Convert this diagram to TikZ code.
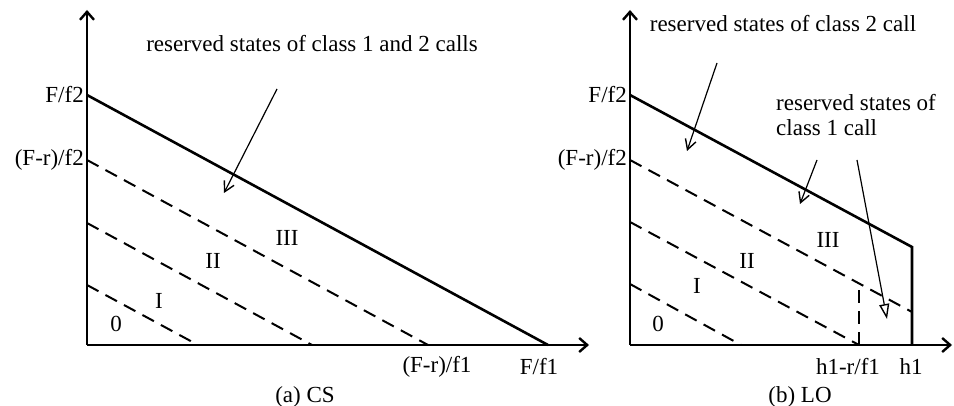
\documentclass[tikz,border=0pt]{standalone}
\usepackage{fontspec}
\setmainfont{Liberation Serif}
\usetikzlibrary{arrows.meta}
\begin{document}
\begin{tikzpicture}[x=1pt,y=-1pt,
  axis/.style={line width=2.6pt,-{Straight Barb[length=8pt,width=14pt,line width=2.4pt]}},
  bound/.style={line width=2.6pt},
  dsh/.style={line width=2pt,dash pattern=on 13pt off 8pt},
  lbl/.style={inner sep=1pt,font=\fontsize{23}{25}\selectfont},
  ptr/.style={line width=1.2pt,-{Straight Barb[length=10pt,width=11pt,line width=1.4pt]}},
  ptro/.style={line width=1.2pt,-{Triangle[open,length=15pt,width=10pt,line width=1.4pt]}}]
\useasboundingbox (0,0) rectangle (954,406);
% ---------- (a) CS ----------
\coordinate (aO) at (87,345);
\coordinate (aT) at (87,10);
\coordinate (aR) at (589,345);
\coordinate (aA2) at (87,95);
\coordinate (aB2) at (87,160);
\coordinate (aC2) at (87,223);
\coordinate (aD2) at (87,285);
\coordinate (aA1) at (548,345);
\coordinate (aB1) at (428,345);
\coordinate (aC1) at (312,345);
\coordinate (aD1) at (198,345);
\draw[axis] (aO) -- (aT);
\draw[axis] (aO) -- (aR);
\draw[bound] (aA2) -- (aA1);
\draw[dsh] (aB2) -- (aB1);
\draw[dsh] (aC2) -- (aC1);
\draw[dsh] (aD2) -- (aD1);
\node[lbl,anchor=east] (aF2) at (85,95) {F/f2};
\node[lbl,anchor=east] (aFr2) at (85,160) {(F-r)/f2};
\node[lbl] (aFr1) at (437,367) {(F-r)/f1};
\node[lbl] (aF1) at (539,367) {F/f1};
\node[lbl] (aCap) at (305,397) {(a) CS};
\node[lbl] (a0) at (116,324) {0};
\node[lbl] (aI) at (159,301) {I};
\node[lbl] (aII) at (213,261) {II};
\node[lbl] (aIII) at (287,238) {III};
\node[lbl] (aRes) at (312,44) {reserved states of class 1 and 2 calls};
\coordinate (aS) at (277,89);
\coordinate (aTip) at (224,193);
\draw[ptr] (aS) -- (aTip);
% ---------- (b) LO ----------
\coordinate (bO) at (630,345);
\coordinate (bT) at (630,10);
\coordinate (bR) at (952,345);
\coordinate (bA2) at (630,95);
\coordinate (bB2) at (630,160);
\coordinate (bC2) at (630,222);
\coordinate (bD2) at (630,284);
\coordinate (bP) at (912,247);
\coordinate (bH) at (912,345);
\coordinate (bQ) at (912,312);
\coordinate (bK) at (859,345);
\coordinate (bKt) at (859,285);
\coordinate (bD1) at (741,345);
\draw[axis] (bO) -- (bT);
\draw[axis] (bO) -- (bR);
\draw[bound,line join=miter] (bA2) -- (bP) -- (bH);
\draw[dsh] (bB2) -- (bQ);
\draw[dsh] (bC2) -- (bK);
\draw[dsh] (bD2) -- (bD1);
\draw[dsh,line width=1.6pt] (bK) -- (bKt);
\node[lbl,anchor=east] (bF2) at (628,95) {F/f2};
\node[lbl,anchor=east] (bFr2) at (628,160) {(F-r)/f2};
\node[lbl] (bh1r) at (848,367) {h1-r/f1};
\node[lbl] (bh1) at (911,367) {h1};
\node[lbl] (bCap) at (800,397) {(b) LO};
\node[lbl] (b0) at (658,324) {0};
\node[lbl] (bI) at (697,286) {I};
\node[lbl] (bII) at (747,261) {II};
\node[lbl] (bIII) at (828,240) {III};
\node[lbl] (bRes2) at (783,24) {reserved states of class 2 call};
\node[lbl,align=left,anchor=north west] (bRes1) at (775,93) {reserved states of\\class 1 call};
\coordinate (bS2) at (717,63);
\coordinate (bTip2) at (687,151);
\draw[ptr] (bS2) -- (bTip2);
\coordinate (bS1a) at (817,160);
\coordinate (bTip1a) at (800,204);
\draw[ptr] (bS1a) -- (bTip1a);
\coordinate (bS1b) at (857,160);
\coordinate (bTip1b) at (887,319);
\draw[ptro] (bS1b) -- (bTip1b);
\end{tikzpicture}
\end{document}
